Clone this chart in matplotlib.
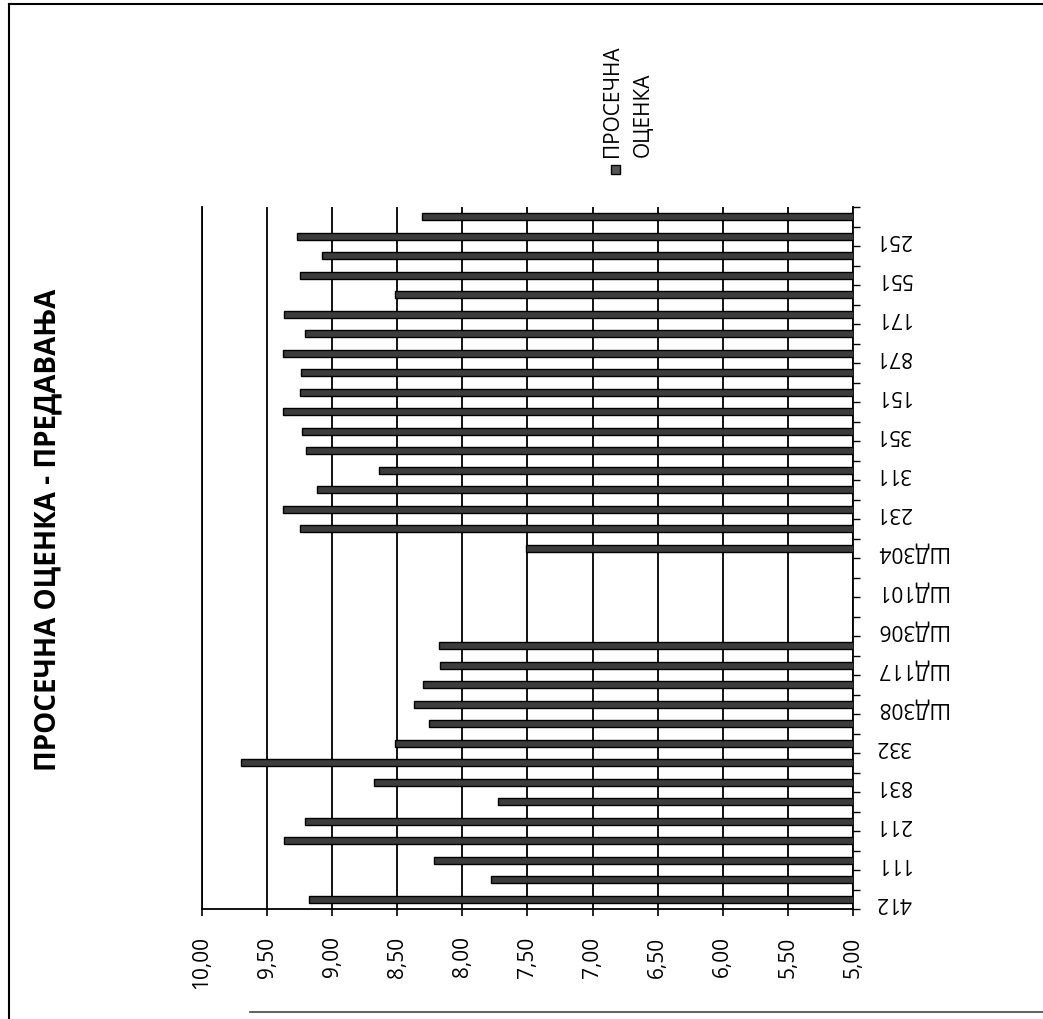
import numpy as np
import matplotlib
matplotlib.use("Agg")
from matplotlib import pyplot as plt
from matplotlib.patches import Rectangle
from matplotlib.lines import Line2D

plt.rcParams['font.family'] = ['Open Sans', 'DejaVu Sans']

# categories from bottom to top (only every other label is shown on the chart)
labels = ['412', '', '111', '', '211', '', '831', '', '332', '',
          'ШД308', '', 'ШД117', '', 'ШД306', '', 'ШД101', '', 'ШД304', '',
          '231', '', '311', '', '351', '', '151', '', '871', '',
          '171', '', '551', '', '251', '']
values = [9.18, 7.78, 8.22, 9.37, 9.21, 7.73, 8.68, 9.70, 8.52, 8.26,
          8.37, 8.30, 8.17, 8.18, 0, 0, 0, 0, 7.51, 9.25,
          9.38, 9.12, 8.64, 9.20, 9.23, 9.38, 9.25, 9.24, 9.38, 9.21,
          9.37, 8.52, 9.25, 9.08, 9.27, 8.31]
ticks = np.arange(5.0, 10.01, 0.5)

title = 'ПРОСЕЧНА ОЦЕНКА - ПРЕДАВАЊА'
series = ['ПРОСЕЧНА', 'ОЦЕНКА']

W, H = 1043, 1020
fig = plt.figure(figsize=(W / 100, H / 100), dpi=100)

#plot area (the chart is turned on its side)
ax = fig.add_axes([202 / W, 1 - 910 / H, (853 - 202) / W, (910 - 208) / H])
pos = np.arange(1, len(values) + 1)
ax.barh(pos, values, height=0.36, color='#3c3c3c', edgecolor='black', linewidth=1, zorder=3)

ax.set_xlim(10, 5)
ax.set_ylim(0.5, len(values) + 0.5)
ax.set_xticks(ticks)
ax.set_xticklabels([('%.2f' % t).replace('.', ',') for t in ticks], rotation=90, fontsize=15)
ax.tick_params(axis='x', direction='out', length=5, width=1.2, pad=14)
ax.grid(axis='x', color='black', linewidth=1.3, zorder=1)
ax.set_axisbelow(True)

ax.yaxis.tick_right()
ax.set_yticks(pos)
ax.set_yticklabels(labels, rotation=180, fontsize=15)
ax.set_yticks(np.arange(0.5, len(values) + 1, 1), minor=True)
ax.tick_params(axis='y', which='major', length=0, pad=16)
ax.tick_params(axis='y', which='minor', direction='out', length=5, width=1)

ax.spines['top'].set_visible(False)
for s in ['left', 'right', 'bottom']:
    ax.spines[s].set_linewidth(1.3)
    ax.spines[s].set_color('black')

#title
fig.text(48 / W, 1 - 530 / H, title, rotation=90, fontsize=20, fontweight='bold',
         ha='center', va='center')

#legend
fig.add_artist(Rectangle((611 / W, 1 - 175 / H), 9 / W, 9 / H, transform=fig.transFigure,
                         facecolor='#555555', edgecolor='black', linewidth=1))
fig.text(612 / W, 1 - 157 / H, series[0], rotation=90, fontsize=15, ha='center', va='bottom')
fig.text(643 / W, 1 - 157 / H, series[1], rotation=90, fontsize=15, ha='center', va='bottom')

#border of the chart area
fig.add_artist(Line2D([9 / W, 9 / W], [0, 1 - 5 / H], color='black', linewidth=1.5))
fig.add_artist(Line2D([9 / W, 1], [1 - 5 / H, 1 - 5 / H], color='black', linewidth=1.5))
fig.add_artist(Line2D([250 / W, 1], [1 - 1013 / H, 1 - 1013 / H], color='#444444', linewidth=1.2))

fig.savefig('out.png', dpi=100)
